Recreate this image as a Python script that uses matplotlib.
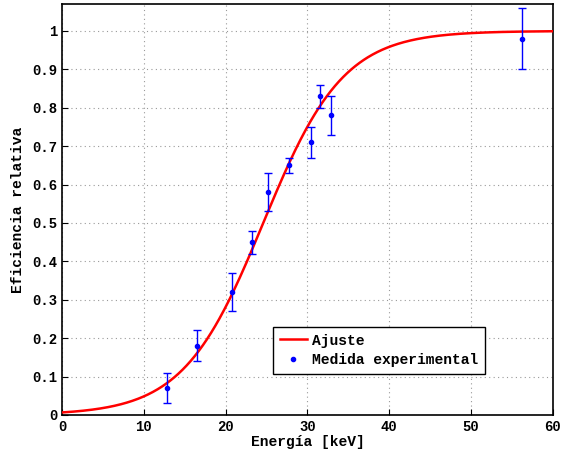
import numpy as np
import matplotlib
matplotlib.use("Agg")
import matplotlib.pyplot as plt
from matplotlib.ticker import FuncFormatter

# Measured relative efficiency vs photon energy
energy = [12.8, 16.5, 20.8, 23.2, 25.2, 27.7, 30.4, 31.5, 32.9, 56.2]
efficiency = [0.07, 0.18, 0.32, 0.45, 0.58, 0.65, 0.71, 0.83, 0.78, 0.98]
error = [0.04, 0.04, 0.05, 0.03, 0.05, 0.02, 0.04, 0.03, 0.05, 0.08]

# Fitted sigmoid: 1 / (1 + exp(-(E - centre) / width))
fit_centre = 24.6
fit_width = 4.9

plt.rcParams["font.family"] = ["Liberation Mono", "DejaVu Sans Mono"]
plt.rcParams["font.weight"] = "bold"

fig = plt.figure(figsize=(5.61, 4.55), dpi=100)
ax = fig.add_axes([0.1105, 0.088, 0.875, 0.903])

e_fit = np.linspace(0, 60, 600)
eff_fit = 1 / (1 + np.exp(-(e_fit - fit_centre) / fit_width))
ax.plot(e_fit, eff_fit, color="red", lw=1.8, label="Ajuste", zorder=3)

ax.errorbar(energy, efficiency, yerr=error, fmt="none", ecolor="blue",
            elinewidth=1.0, capsize=2.7, capthick=1.0, zorder=4)
ax.plot(energy, efficiency, ".", color="blue", ms=6, label="Medida experimental", zorder=5)


def fmt_tick(v, pos):
    if abs(v - round(v)) < 1e-9:
        return f"{int(round(v))}"
    return f"{v:.1f}"


ax.set_xlim(0, 60)
ax.set_ylim(0, 1.07)
ax.set_xticks(np.arange(0, 61, 10))
ax.set_yticks(np.arange(0, 1.01, 0.1))
ax.yaxis.set_major_formatter(FuncFormatter(fmt_tick))
ax.grid(True, linestyle=(0, (1, 3)), color="#999999", lw=0.8)
ax.tick_params(direction="in", length=4, labelsize=10, width=0.8)
for lab in ax.get_xticklabels() + ax.get_yticklabels():
    lab.set_fontweight("bold")
for s in ax.spines.values():
    s.set_linewidth(1.2)

ax.set_xlabel("Energía [keV]", fontsize=10.5, fontweight="bold", labelpad=1)
ax.set_ylabel("Eficiencia relativa", fontsize=10.5, fontweight="bold", labelpad=5)

leg = ax.legend(loc="upper left", bbox_to_anchor=(0.43, 0.214), fancybox=False,
                edgecolor="black", framealpha=1, fontsize=10.5, handlelength=1.9,
                borderpad=0.45, labelspacing=0.4, handletextpad=0.3, borderaxespad=0)
leg.get_frame().set_linewidth(1.0)

fig.savefig("out.png", dpi=100)
